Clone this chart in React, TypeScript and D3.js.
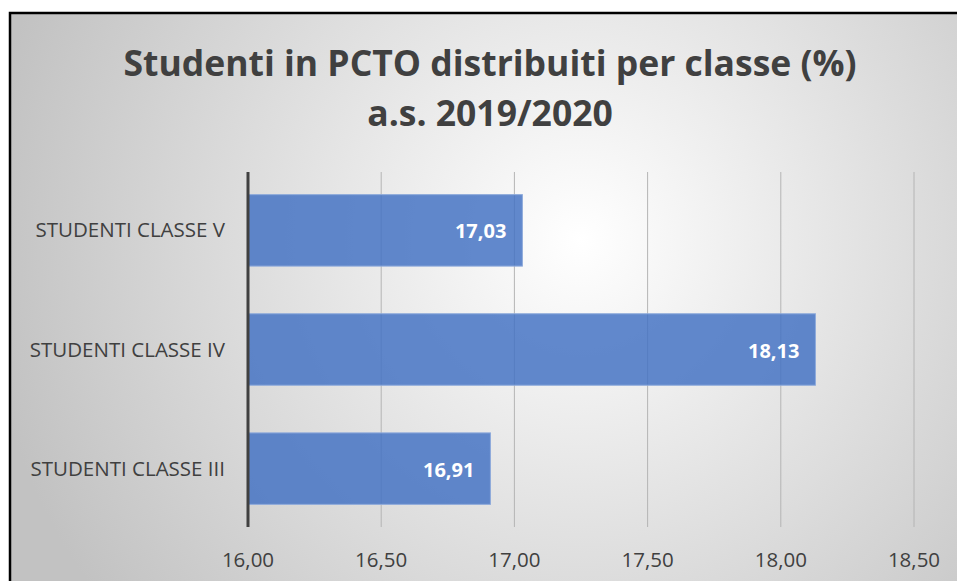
import React, { useEffect, useRef } from "react";
import * as d3 from "d3";

const categories = ["STUDENTI CLASSE V", "STUDENTI CLASSE IV", "STUDENTI CLASSE III"];
const values = [17.03, 18.13, 16.91];
const xTicks = [16, 16.5, 17, 17.5, 18, 18.5];
const titleLines = ["Studenti in PCTO distribuiti per classe (%)", "a.s. 2019/2020"];

const fmt = (v: number) => v.toFixed(2).replace(".", ",");

const App = () => {
  const ref = useRef<SVGSVGElement>(null);

  useEffect(() => {
    const svg = d3.select(ref.current);
    svg.selectAll("*").remove();

    const width = 957;
    const height = 581;
    const font = "'Open Sans', 'Liberation Sans', sans-serif";

    // sfondo con gradiente radiale
    const defs = svg.append("defs");
    const grad = defs.append("radialGradient")
      .attr("id", "bg")
      .attr("gradientUnits", "userSpaceOnUse")
      .attr("cx", 580).attr("cy", 240).attr("r", 600);
    grad.append("stop").attr("offset", "0%").attr("stop-color", "#ffffff");
    grad.append("stop").attr("offset", "100%").attr("stop-color", "#c2c2c2");

    svg.append("rect")
      .attr("x", 10).attr("y", 13)
      .attr("width", width).attr("height", height)
      .attr("fill", "url(#bg)")
      .attr("stroke", "#000").attr("stroke-width", 2.5);

    // titolo
    svg.append("g").selectAll("text")
      .data(titleLines)
      .enter().append("text")
      .attr("x", 490)
      .attr("y", (d, i) => 76 + i * 50)
      .attr("text-anchor", "middle")
      .attr("font-family", font)
      .attr("font-weight", "bold")
      .attr("font-size", 35.5)
      .attr("fill", "#404040")
      .text((d) => d);

    const margin = { top: 172, bottom: 54, left: 248, right: 43 };

    const x = d3.scaleLinear()
      .domain([16, 18.5])
      .range([margin.left, width - margin.right]);

    const y = d3.scaleBand()
      .domain(categories)
      .range([margin.top, height - margin.bottom])
      .paddingInner(0.4)
      .paddingOuter(0.19);

    // griglia
    svg.append("g").selectAll("line")
      .data(xTicks.slice(1))
      .enter().append("line")
      .attr("x1", (d) => x(d)).attr("x2", (d) => x(d))
      .attr("y1", margin.top).attr("y2", height - margin.bottom)
      .attr("stroke", "#b4b4b4").attr("stroke-width", 1);

    // barre
    svg.append("g").selectAll("rect")
      .data(values)
      .enter().append("rect")
      .attr("x", x(16))
      .attr("y", (d, i) => y(categories[i])!)
      .attr("width", (d) => x(d) - x(16))
      .attr("height", y.bandwidth())
      .attr("fill", "#4472c4")
      .attr("fill-opacity", 0.84)
      .attr("stroke", "#8eaadb")
      .attr("stroke-width", 1);

    // etichette valori
    svg.append("g").selectAll("text")
      .data(values)
      .enter().append("text")
      .attr("x", (d) => x(d) - 16)
      .attr("y", (d, i) => y(categories[i])! + y.bandwidth() / 2 + 8)
      .attr("text-anchor", "end")
      .attr("font-family", font)
      .attr("font-weight", "bold")
      .attr("font-size", 20)
      .attr("fill", "#ffffff")
      .text((d) => fmt(d));

    // asse verticale
    svg.append("line")
      .attr("x1", x(16)).attr("x2", x(16))
      .attr("y1", margin.top).attr("y2", height - margin.bottom)
      .attr("stroke", "#404040").attr("stroke-width", 3);

    // etichette categorie
    svg.append("g").selectAll("text")
      .data(categories)
      .enter().append("text")
      .attr("x", 225)
      .attr("y", (d) => y(d)! + y.bandwidth() / 2 + 7)
      .attr("text-anchor", "end")
      .attr("font-family", font)
      .attr("font-size", 20.5)
      .attr("fill", "#404040")
      .text((d) => d);

    // etichette asse x
    svg.append("g").selectAll("text")
      .data(xTicks)
      .enter().append("text")
      .attr("x", (d) => x(d))
      .attr("y", 567)
      .attr("text-anchor", "middle")
      .attr("font-family", font)
      .attr("font-size", 20.5)
      .attr("fill", "#404040")
      .text((d) => fmt(d));
  }, []);

  return (
    <svg
      ref={ref}
      width={957}
      height={581}
      style={{ position: "absolute", top: 0, left: 0, background: "#fff" }}
    ></svg>
  );
};

export default App;
